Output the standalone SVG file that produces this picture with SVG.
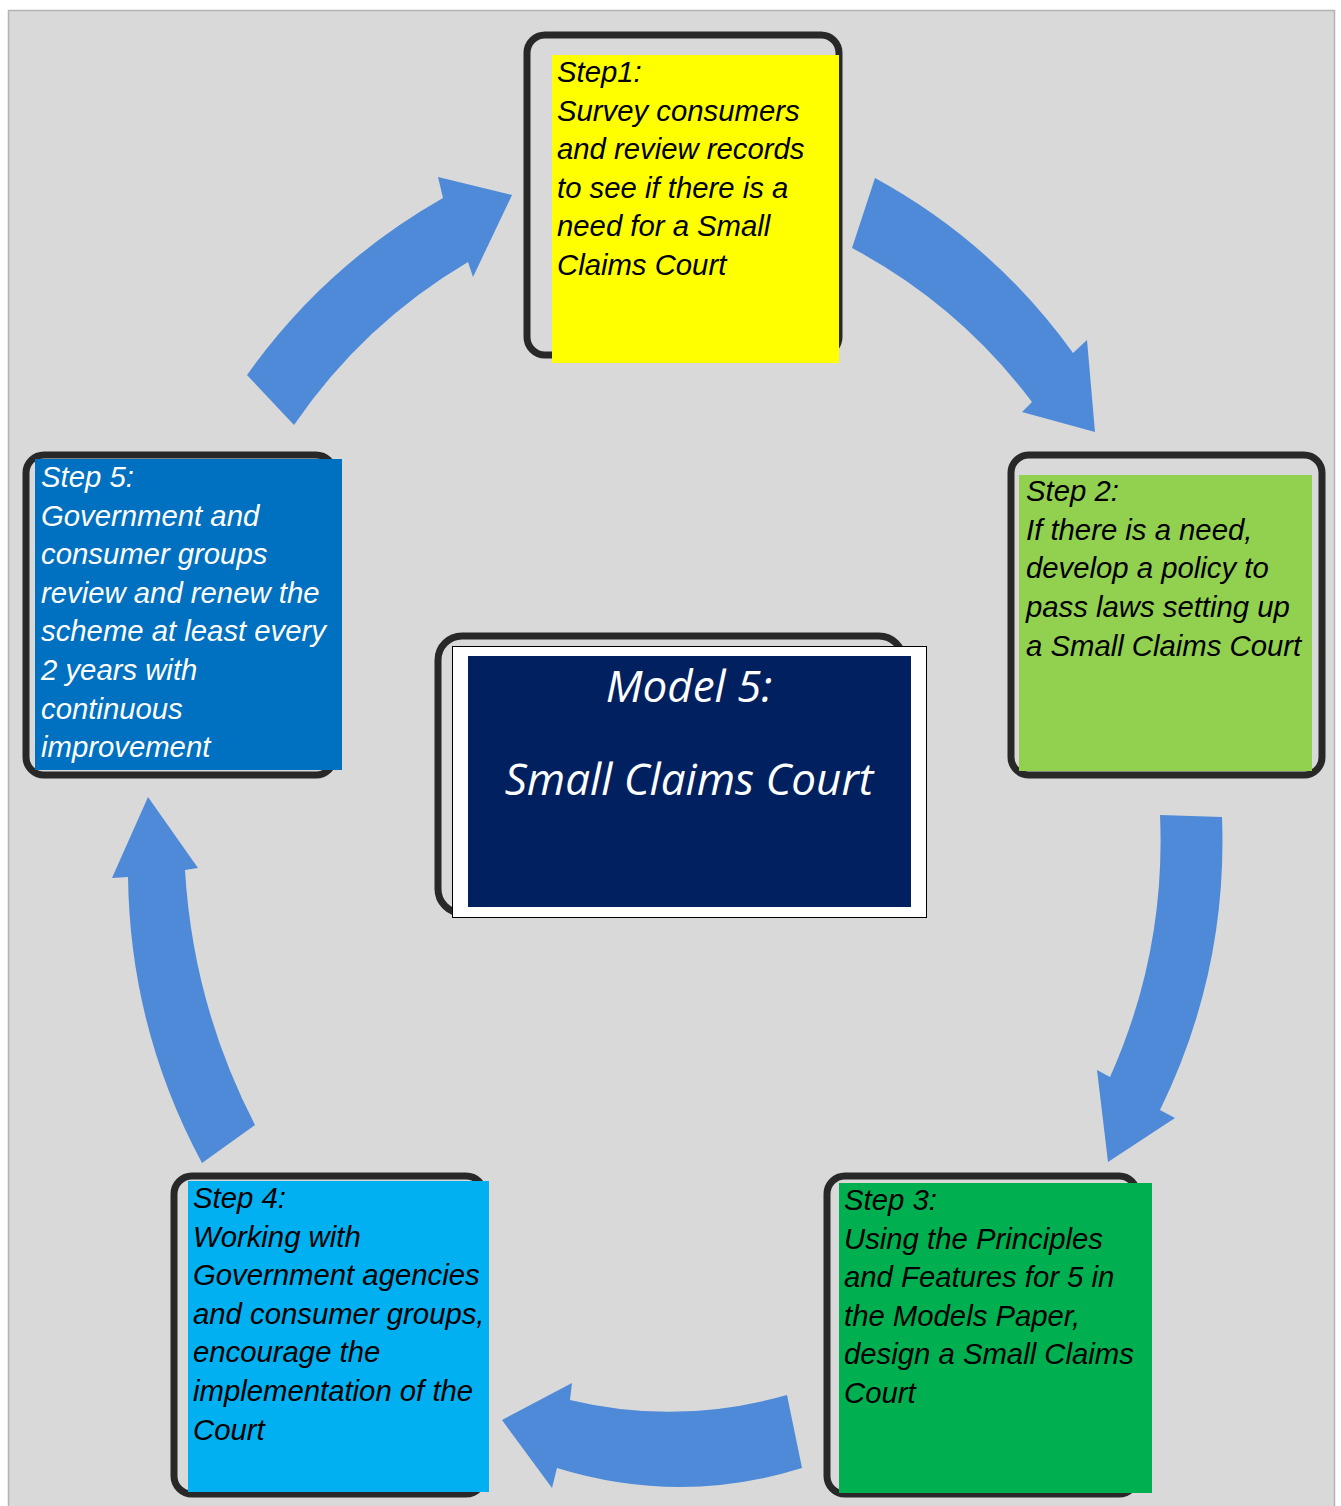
<svg xmlns="http://www.w3.org/2000/svg" width="1341" height="1506" viewBox="0 0 1341 1506">
<style>
.frame{fill:none;stroke:#282828;stroke-width:7}
.t{font-family:"Liberation Sans",Arial,sans-serif;font-style:italic;font-size:29.3px}
.dark{fill:#000}
.light{fill:#fff}
.arrow{fill:#4F8AD8}
.title{font-family:"Open Sans","Noto Sans",sans-serif;font-style:italic;font-size:44px;fill:#fff;text-anchor:middle}
</style>
<rect x="0" y="0" width="1341" height="1506" fill="#fff"/>
<rect x="8.5" y="10.5" width="1326" height="1500" fill="#d9d9d9" stroke="#b3b3b3" stroke-width="1.5"/>

<g id="connectors">
<path class="arrow" d="M247,375 Q325,265 443,198 L438,177 L512,195 L473,277 L468,262 Q363,324 294,425 Z"/>
<path class="arrow" d="M875,178 Q994,243 1073,353 L1087,340 L1095,432 L1022,412 L1032,402 Q959,305 852,248 Z"/>
<path class="arrow" d="M1160,815 L1222,817 Q1228,971 1160,1110 L1175,1118 L1108,1162 L1097,1070 L1110,1077 Q1166,952 1160,815 Z"/>
<path class="arrow" d="M787,1395 Q678,1426 570,1400 L572,1383 L502,1420 L552,1488 L557,1468 Q680,1506 802,1468 Z"/>
<path class="arrow" d="M202,1163 Q130,1029 128,877 L112,878 L148,797 L198,868 L185,870 Q193,1005 255,1125 Z"/>
</g>

<g id="step1">
<rect class="frame" x="527" y="35" width="312" height="320" rx="18"/>
<rect x="552" y="55" width="287" height="308" fill="#ffff00"/>
<text class="t dark" x="557" y="82">Step1:<tspan x="557" dy="38.5">Survey consumers</tspan><tspan x="557" dy="38.6">and review records</tspan><tspan x="557" dy="38.6">to see if there is a</tspan><tspan x="557" dy="38.6">need for a Small</tspan><tspan x="557" dy="38.6">Claims Court</tspan></text>
</g>

<g id="step2">
<rect class="frame" x="1011" y="455" width="311" height="320" rx="18"/>
<rect x="1019" y="475" width="293" height="296" fill="#92d050"/>
<text class="t dark" x="1026" y="501">Step 2:<tspan x="1026" dy="38.8">If there is a need,</tspan><tspan x="1026" dy="38.6">develop a policy to</tspan><tspan x="1026" dy="38.6">pass laws setting up</tspan><tspan x="1026" dy="38.6">a Small Claims Court</tspan></text>
</g>

<g id="step3">
<rect class="frame" x="827" y="1176" width="310" height="318" rx="18"/>
<rect x="839" y="1183" width="313" height="310" fill="#00b050"/>
<text class="t dark" x="844" y="1210">Step 3:<tspan x="844" dy="38.6">Using the Principles</tspan><tspan x="844" dy="38.6">and Features for 5 in</tspan><tspan x="844" dy="38.6">the Models Paper,</tspan><tspan x="844" dy="38.6">design a Small Claims</tspan><tspan x="844" dy="38.6">Court</tspan></text>
</g>

<g id="step4">
<rect class="frame" x="174" y="1176" width="310" height="318" rx="18"/>
<rect x="188" y="1181" width="301" height="311" fill="#00b0f0"/>
<text class="t dark" x="193" y="1208">Step 4:<tspan x="193" dy="38.6">Working with</tspan><tspan x="193" dy="38.6">Government agencies</tspan><tspan x="193" dy="38.6">and consumer groups,</tspan><tspan x="193" dy="38.6">encourage the</tspan><tspan x="193" dy="38.6">implementation of the</tspan><tspan x="193" dy="38.6">Court</tspan></text>
</g>

<g id="step5">
<rect class="frame" x="26" y="455" width="308" height="320" rx="18"/>
<rect x="35" y="459" width="307" height="311" fill="#0070c0"/>
<text class="t light" x="41" y="487">Step 5:<tspan x="41" dy="38.6">Government and</tspan><tspan x="41" dy="38.6">consumer groups</tspan><tspan x="41" dy="38.6">review and renew the</tspan><tspan x="41" dy="38.6">scheme at least every</tspan><tspan x="41" dy="38.6">2 years with</tspan><tspan x="41" dy="38.6">continuous</tspan><tspan x="41" dy="38.6">improvement</tspan></text>
</g>

<g id="center">
<rect class="frame" x="438" y="636" width="465" height="277" rx="24"/>
<rect x="452.5" y="646.5" width="474" height="271" fill="#fff" stroke="#000" stroke-width="1"/>
<rect x="468" y="656" width="443" height="251" fill="#002060"/>
<text class="title" x="689" y="702">Model 5:</text>
<text class="title" x="689" y="795">Small Claims Court</text>
</g>
</svg>
